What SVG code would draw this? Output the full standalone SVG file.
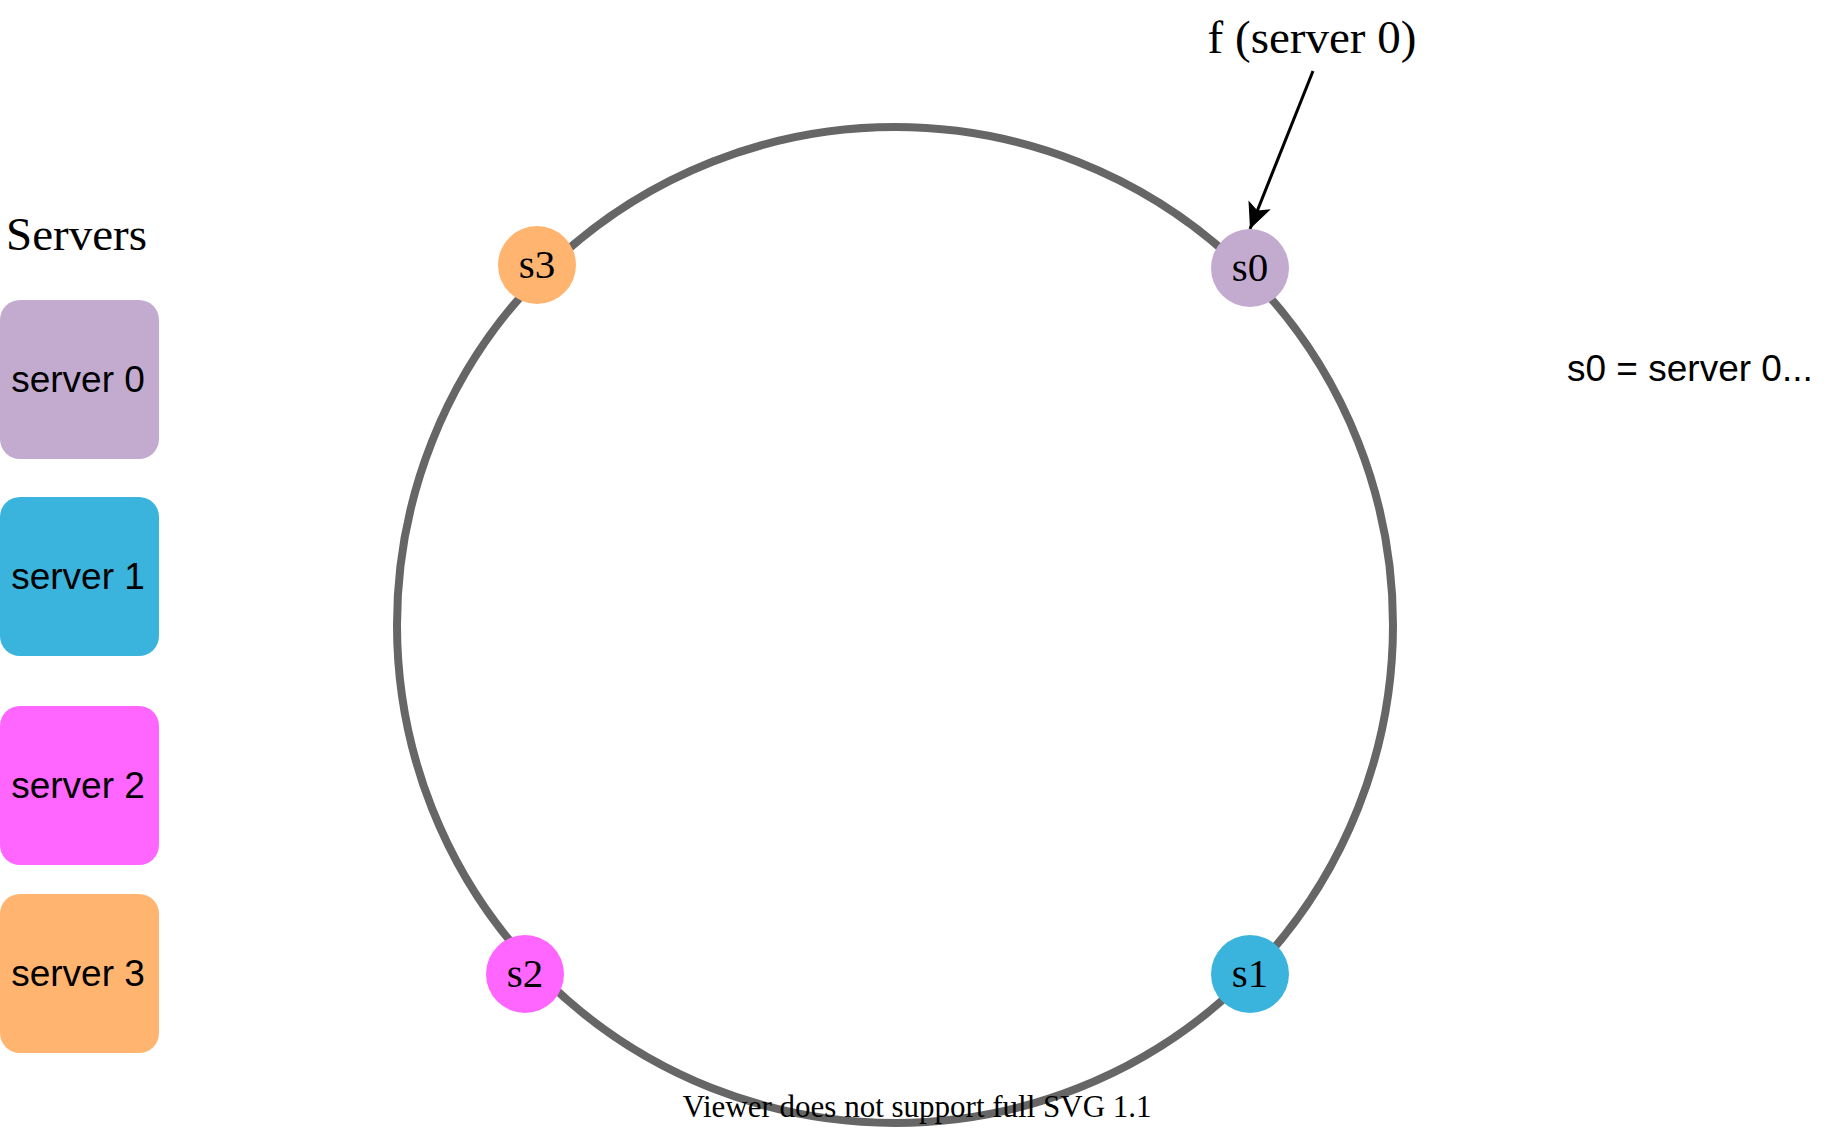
<svg xmlns="http://www.w3.org/2000/svg" width="1834" height="1131" viewBox="0 0 1834 1131">
<style>
.box{stroke:none}
.btxt{font-family:"Liberation Sans",Arial,sans-serif;font-size:37px;fill:#000;text-anchor:middle}
.ser{font-family:"Liberation Serif","Times New Roman",serif;fill:#000}
.lbl{font-size:41px;text-anchor:middle}
</style>
<defs>
<marker id="ah" markerUnits="userSpaceOnUse" markerWidth="30" markerHeight="30" viewBox="0 0 30 30" refX="28" refY="15" orient="auto">
<path d="M2,3 L28,15 L2,27 L8,15 Z" fill="#000"/>
</marker>
</defs>
<rect width="1834" height="1131" fill="#fff"/>
<g id="ring">
<circle cx="895" cy="625" r="498" fill="none" stroke="#666666" stroke-width="8"/>
</g>
<g id="connectors">
<line x1="1313" y1="71" x2="1250" y2="229" stroke="#000" stroke-width="3" marker-end="url(#ah)"/>
</g>
<g id="node-s0">
<circle cx="1250" cy="268" r="39" fill="#C3ABD0"/>
<text class="ser lbl" x="1250" y="281">s0</text>
</g>
<g id="node-s1">
<circle cx="1250" cy="974" r="39" fill="#3AB4DC"/>
<text class="ser lbl" x="1250" y="987">s1</text>
</g>
<g id="node-s2">
<circle cx="525" cy="974" r="39" fill="#FF66FF"/>
<text class="ser lbl" x="525" y="987">s2</text>
</g>
<g id="node-s3">
<circle cx="537" cy="265" r="39" fill="#FFB570"/>
<text class="ser lbl" x="537" y="278">s3</text>
</g>
<g id="label-f">
<text class="ser" x="1312" y="53" font-size="47" text-anchor="middle">f (server 0)</text>
</g>
<g id="label-servers">
<text class="ser" x="6" y="250" font-size="47">Servers</text>
</g>
<g id="server0">
<rect class="box" x="0" y="300" width="159" height="159" rx="20" fill="#C3ABD0"/>
<text class="btxt" x="78" y="392">server 0</text>
</g>
<g id="server1">
<rect class="box" x="0" y="497" width="159" height="159" rx="20" fill="#3AB4DC"/>
<text class="btxt" x="78" y="589">server 1</text>
</g>
<g id="server2">
<rect class="box" x="0" y="706" width="159" height="159" rx="20" fill="#FF66FF"/>
<text class="btxt" x="78" y="798">server 2</text>
</g>
<g id="server3">
<rect class="box" x="0" y="894" width="159" height="159" rx="20" fill="#FFB570"/>
<text class="btxt" x="78" y="986">server 3</text>
</g>
<g id="legend">
<text x="1567" y="381" font-family="'Liberation Sans',Arial,sans-serif" font-size="37" fill="#000">s0 = server 0...</text>
</g>
<g id="footer">
<text class="ser" x="917" y="1117" font-size="31" text-anchor="middle">Viewer does not support full SVG 1.1</text>
</g>
</svg>
